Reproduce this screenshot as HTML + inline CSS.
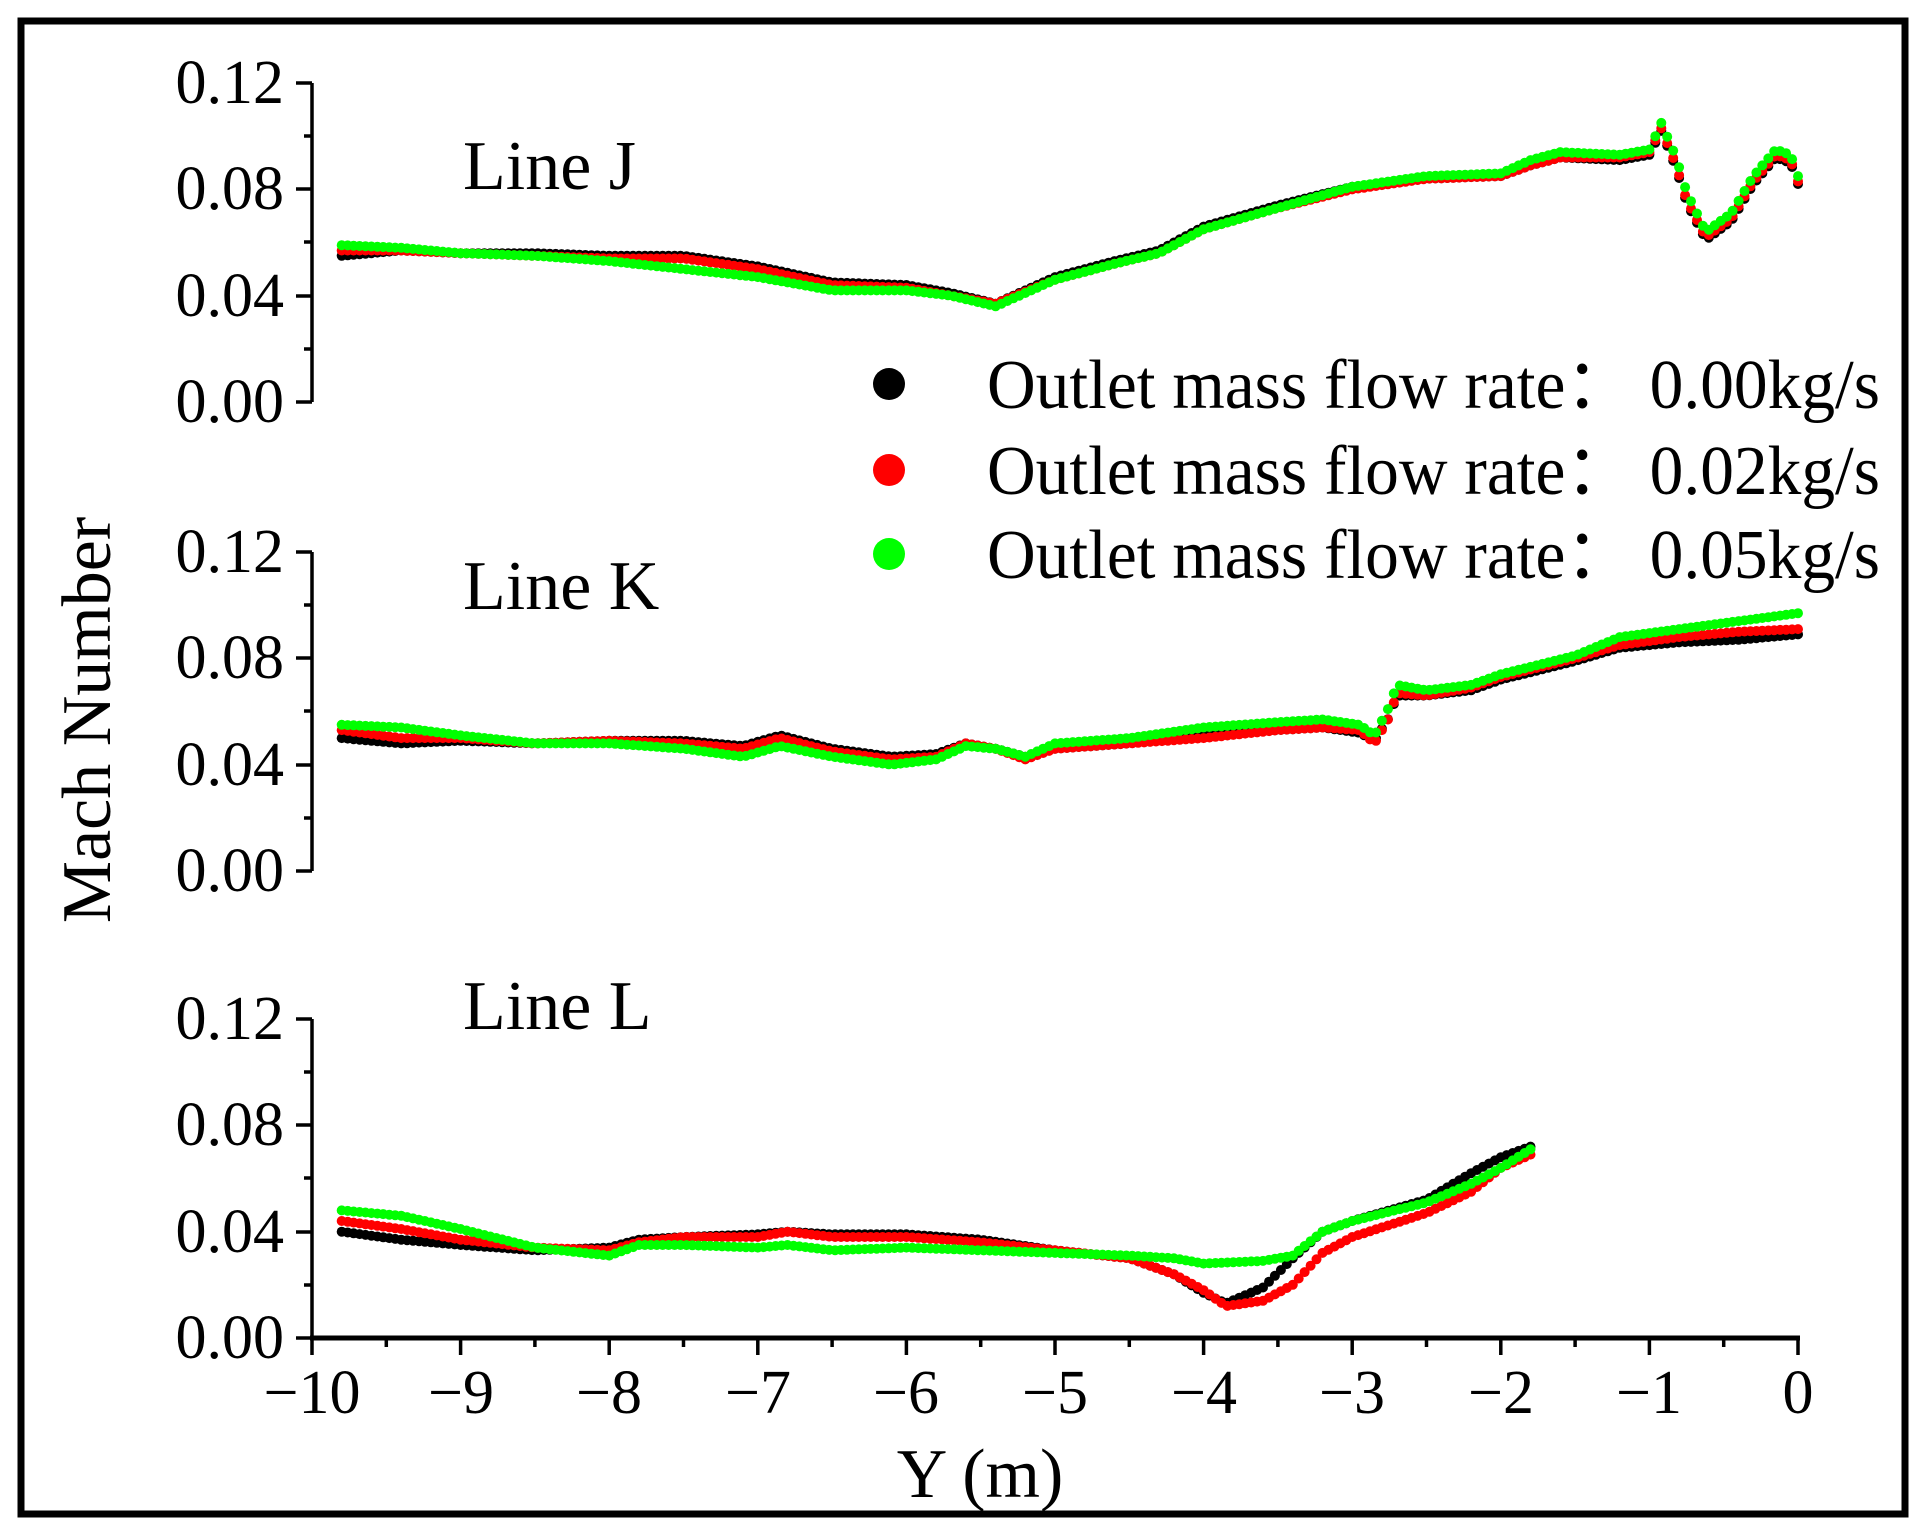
<!DOCTYPE html>
<html><head><meta charset="utf-8"><style>
html,body{margin:0;padding:0;background:#fff;}
svg{display:block;}
text{font-family:"Liberation Serif",serif;fill:#000;}
</style></head><body>
<svg id="s" width="1921" height="1528" viewBox="0 0 1921 1528" xmlns="http://www.w3.org/2000/svg">
<rect x="0" y="0" width="1921" height="1528" fill="#fff"/>
<rect x="21" y="21" width="1884" height="1493" fill="none" stroke="#000" stroke-width="7"/>
<g stroke="#000" stroke-width="3.5" fill="none">
<line x1="312" y1="83" x2="312" y2="402"/>
<line x1="296" y1="83" x2="312" y2="83"/><line x1="296" y1="189" x2="312" y2="189"/><line x1="296" y1="296" x2="312" y2="296"/><line x1="296" y1="402" x2="312" y2="402"/>
<line x1="304" y1="136" x2="312" y2="136"/><line x1="304" y1="242" x2="312" y2="242"/><line x1="304" y1="349" x2="312" y2="349"/>
<line x1="312" y1="552" x2="312" y2="871"/>
<line x1="296" y1="552" x2="312" y2="552"/><line x1="296" y1="658" x2="312" y2="658"/><line x1="296" y1="765" x2="312" y2="765"/><line x1="296" y1="871" x2="312" y2="871"/>
<line x1="304" y1="605" x2="312" y2="605"/><line x1="304" y1="711" x2="312" y2="711"/><line x1="304" y1="818" x2="312" y2="818"/>
<line x1="312" y1="1019" x2="312" y2="1338"/>
<line x1="296" y1="1019" x2="312" y2="1019"/><line x1="296" y1="1125" x2="312" y2="1125"/><line x1="296" y1="1232" x2="312" y2="1232"/><line x1="296" y1="1338" x2="312" y2="1338"/>
<line x1="304" y1="1072" x2="312" y2="1072"/><line x1="304" y1="1178" x2="312" y2="1178"/><line x1="304" y1="1285" x2="312" y2="1285"/>
<line x1="310" y1="1338" x2="1800" y2="1338" stroke-width="5"/>
</g>
<g id="xt" stroke="#000" stroke-width="3.5"></g>
<g font-size="62" text-anchor="end">
<text x="284" y="103">0.12</text><text x="284" y="209">0.08</text><text x="284" y="316">0.04</text><text x="284" y="422">0.00</text>
<text x="284" y="572">0.12</text><text x="284" y="678">0.08</text><text x="284" y="785">0.04</text><text x="284" y="891">0.00</text>
<text x="284" y="1039">0.12</text><text x="284" y="1145">0.08</text><text x="284" y="1252">0.04</text><text x="284" y="1358">0.00</text>
</g>
<g font-size="62" text-anchor="middle">
<text x="312" y="1413">−10</text><text x="461" y="1413">−9</text><text x="609" y="1413">−8</text><text x="758" y="1413">−7</text><text x="906" y="1413">−6</text><text x="1055" y="1413">−5</text><text x="1204" y="1413">−4</text><text x="1352" y="1413">−3</text><text x="1501" y="1413">−2</text><text x="1649" y="1413">−1</text><text x="1798" y="1413">0</text>
</g>
<text x="980" y="1497" font-size="70" text-anchor="middle">Y (m)</text>
<text transform="translate(110,720) rotate(-90)" font-size="70" text-anchor="middle">Mach Number</text>
<g font-size="70">
<text x="463" y="189">Line J</text>
<text x="463" y="609">Line K</text>
<text x="463" y="1029">Line L</text>
</g>
<g id="data"></g>
<circle cx="889" cy="384" r="16" fill="#000"/>
<circle cx="889" cy="470" r="16" fill="#f00"/>
<circle cx="889" cy="554" r="16" fill="#0f0"/>
<g font-size="70">
<text x="987" y="408" textLength="893" lengthAdjust="spacingAndGlyphs">Outlet mass flow rate：  0.00kg/s</text>
<text x="987" y="494" textLength="893" lengthAdjust="spacingAndGlyphs">Outlet mass flow rate：  0.02kg/s</text>
<text x="987" y="578" textLength="893" lengthAdjust="spacingAndGlyphs">Outlet mass flow rate：  0.05kg/s</text>
</g>
</svg>
<script>
(function(){
var NS="http://www.w3.org/2000/svg";
var xt=document.getElementById('xt');
for(var i=0;i<=20;i++){var x=312+i*74.3;var l=document.createElementNS(NS,'line');
l.setAttribute('x1',x);l.setAttribute('x2',x);l.setAttribute('y1',1338);l.setAttribute('y2',i%2==0?1355:1347);xt.appendChild(l);}
function px(x){return 312+(x+10)*148.6;}
var P={J:402,K:871,L:1338};
var D={
J:{k:[[-9.8,.055],[-9.4,.057],[-9,.056],[-8.5,.056],[-8,.055],[-7.5,.055],[-7,.051],[-6.5,.045],[-6,.044],[-5.7,.041],[-5.4,.037],[-5,.047],[-4.6,.053],[-4.3,.057],[-4,.066],[-3.5,.074],[-3,.081],[-2.5,.084],[-2,.085],[-1.8,.089],[-1.6,.092],[-1.2,.091],[-1.0,.093],[-0.92,.102],[-0.82,.088],[-0.75,.075],[-0.62,.061],[-0.45,.068],[-0.3,.082],[-0.15,.092],[-0.05,.09],[0,.082]],
 r:[[-9.8,.057],[-9.4,.057],[-9,.056],[-8.5,.055],[-8,.054],[-7.5,.054],[-7,.050],[-6.5,.044],[-6,.043],[-5.7,.040],[-5.4,.037],[-5,.046],[-4.6,.052],[-4.3,.056],[-4,.065],[-3.5,.073],[-3,.080],[-2.5,.084],[-2,.085],[-1.8,.089],[-1.6,.092],[-1.2,.092],[-1.0,.094],[-0.92,.103],[-0.82,.089],[-0.75,.076],[-0.62,.062],[-0.45,.069],[-0.3,.083],[-0.15,.093],[-0.05,.091],[0,.083]],
 g:[[-9.8,.059],[-9.4,.058],[-9,.056],[-8.5,.055],[-8,.053],[-7.5,.050],[-7,.047],[-6.5,.042],[-6,.042],[-5.7,.040],[-5.4,.036],[-5,.046],[-4.6,.052],[-4.3,.056],[-4,.065],[-3.5,.073],[-3,.081],[-2.5,.085],[-2,.086],[-1.8,.091],[-1.6,.094],[-1.2,.093],[-1.0,.095],[-0.92,.105],[-0.82,.092],[-0.75,.079],[-0.62,.064],[-0.45,.071],[-0.3,.085],[-0.15,.095],[-0.05,.093],[0,.085]]},
K:{k:[[-9.8,.050],[-9.4,.048],[-9,.049],[-8.5,.048],[-8,.049],[-7.5,.049],[-7.1,.047],[-6.85,.051],[-6.5,.046],[-6.1,.043],[-5.8,.044],[-5.6,.048],[-5.4,.046],[-5.2,.043],[-5,.046],[-4.5,.048],[-4,.051],[-3.5,.053],[-3.2,.054],[-2.95,.052],[-2.85,.049],[-2.75,.058],[-2.7,.066],[-2.5,.066],[-2.2,.068],[-2,.072],[-1.5,.079],[-1.2,.084],[-0.8,.086],[-0.4,.087],[0,.089]],
 r:[[-9.8,.053],[-9.4,.050],[-9,.050],[-8.5,.048],[-8,.049],[-7.5,.048],[-7.1,.046],[-6.85,.050],[-6.5,.045],[-6.1,.042],[-5.8,.043],[-5.6,.048],[-5.4,.046],[-5.2,.042],[-5,.046],[-4.5,.048],[-4,.050],[-3.5,.053],[-3.2,.054],[-2.95,.053],[-2.85,.048],[-2.75,.058],[-2.7,.067],[-2.5,.066],[-2.2,.069],[-2,.073],[-1.5,.080],[-1.2,.085],[-0.8,.088],[-0.4,.090],[0,.091]],
 g:[[-9.8,.055],[-9.4,.054],[-9,.051],[-8.5,.048],[-8,.048],[-7.5,.046],[-7.1,.043],[-6.85,.047],[-6.5,.043],[-6.1,.040],[-5.8,.042],[-5.6,.047],[-5.4,.046],[-5.2,.043],[-5,.048],[-4.5,.050],[-4,.054],[-3.5,.056],[-3.2,.057],[-2.95,.055],[-2.85,.051],[-2.75,.062],[-2.7,.070],[-2.5,.068],[-2.2,.070],[-2,.074],[-1.5,.081],[-1.2,.088],[-0.8,.091],[-0.4,.094],[0,.097]]},
L:{k:[[-9.8,.040],[-9.4,.037],[-9,.035],[-8.5,.033],[-8,.034],[-7.8,.037],[-7.5,.038],[-7,.039],[-6.8,.040],[-6.5,.039],[-6,.039],[-5.5,.037],[-5,.033],[-4.5,.030],[-4.2,.024],[-4,.017],[-3.85,.013],[-3.6,.019],[-3.4,.030],[-3.2,.040],[-3,.044],[-2.5,.052],[-2.2,.062],[-2,.068],[-1.8,.072]],
 r:[[-9.8,.044],[-9.4,.041],[-9,.037],[-8.5,.034],[-8,.033],[-7.8,.036],[-7.5,.038],[-7,.038],[-6.8,.040],[-6.5,.038],[-6,.038],[-5.5,.036],[-5,.033],[-4.5,.030],[-4.2,.024],[-4,.018],[-3.85,.012],[-3.6,.014],[-3.4,.020],[-3.2,.032],[-3,.038],[-2.5,.047],[-2.2,.055],[-2,.064],[-1.8,.069]],
 g:[[-9.8,.048],[-9.4,.046],[-9,.041],[-8.5,.034],[-8,.031],[-7.8,.035],[-7.5,.035],[-7,.034],[-6.8,.035],[-6.5,.033],[-6,.034],[-5.5,.033],[-5,.032],[-4.5,.031],[-4.2,.030],[-4,.028],[-3.6,.029],[-3.4,.031],[-3.2,.040],[-3,.044],[-2.5,.051],[-2.2,.058],[-2,.064],[-1.8,.071]]}};
var col={k:'#000',r:'#f00',g:'#0f0'};
var g=document.getElementById('data');
['J','K','L'].forEach(function(p){['k','r','g'].forEach(function(s){
var pts=D[p][s];var y0=P[p];
var x0=pts[0][0],x1=pts[pts.length-1][0];
var j=0;
for(var x=x0;x<=x1+1e-9;x+=0.04){
while(j<pts.length-2&&x>pts[j+1][0])j++;
var a=pts[j],b=pts[j+1];var t=(x-a[0])/(b[0]-a[0]);t=Math.max(0,Math.min(1,t));
var v=a[1]+(b[1]-a[1])*t;
var c=document.createElementNS(NS,'circle');
c.setAttribute('cx',px(x).toFixed(1));c.setAttribute('cy',(y0-v*2658).toFixed(1));
c.setAttribute('r',5);c.setAttribute('fill',col[s]);g.appendChild(c);}
});});
})();
</script>
</body></html>
